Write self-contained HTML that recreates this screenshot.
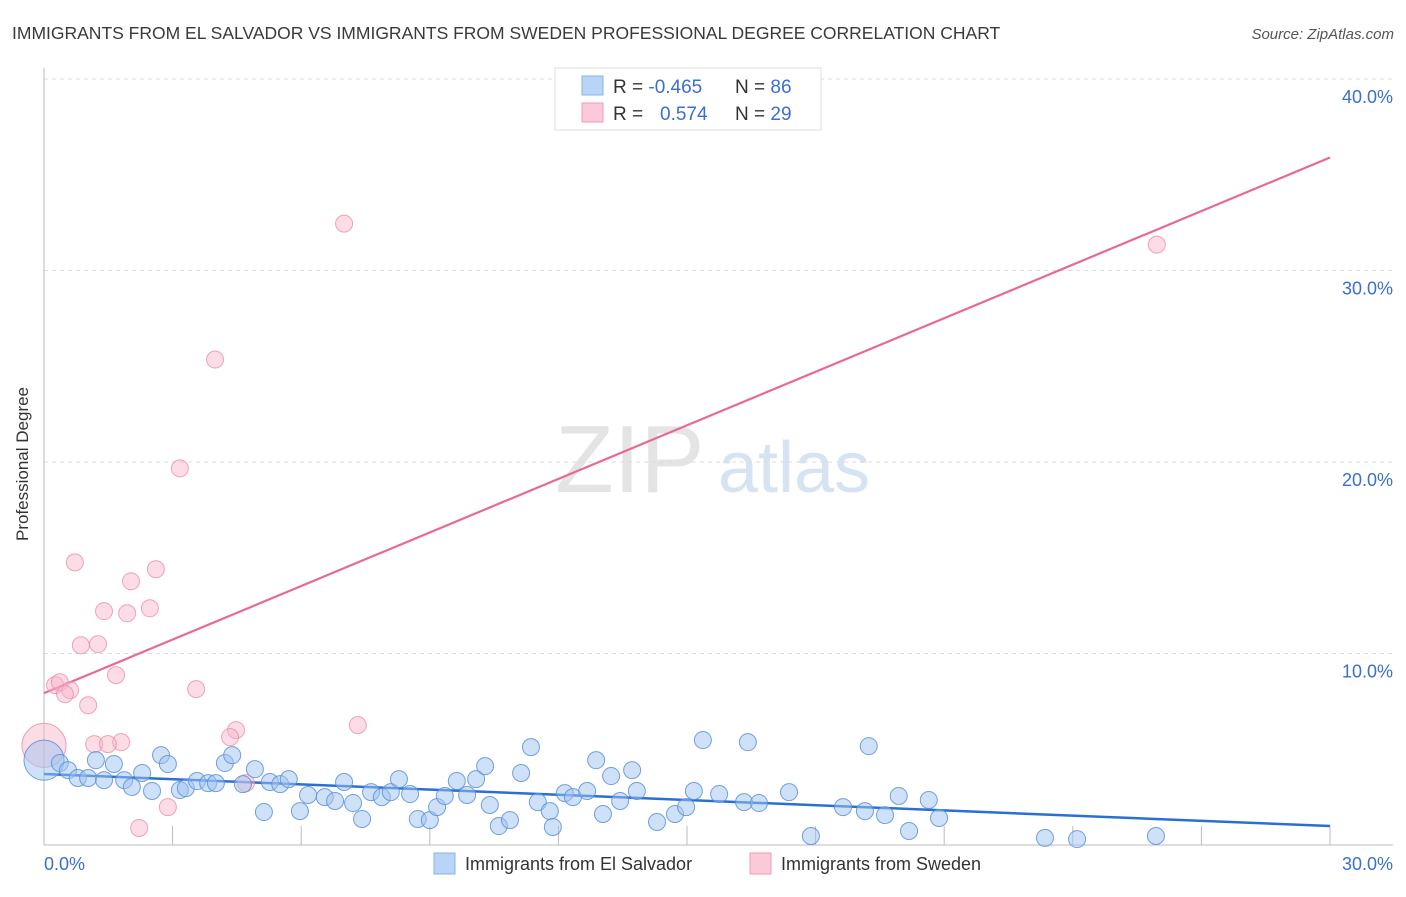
<!DOCTYPE html>
<html><head><meta charset="utf-8"><style>
body{margin:0;background:#fff;font-family:"Liberation Sans",sans-serif;}
svg text{font-family:"Liberation Sans",sans-serif;}
</style></head><body>
<svg width="1406" height="892" viewBox="0 0 1406 892" id="chart">
<text x="12" y="39" font-size="17.5" fill="#3a3a3a">IMMIGRANTS FROM EL SALVADOR VS IMMIGRANTS FROM SWEDEN PROFESSIONAL DEGREE CORRELATION CHART</text>
<text x="1394" y="39" font-size="15" fill="#555" font-style="italic" text-anchor="end">Source: ZipAtlas.com</text>
<g>
<text x="555" y="492" font-size="96" font-family="Liberation Serif" fill="#e4e4e4">ZIP</text>
<text x="718" y="492" font-size="72" fill="#d6e3f3">atlas</text>
</g>
<g id="grid"></g>
<g id="axes"></g>
<text x="20" y="456" font-size="17" fill="#333" text-anchor="middle" transform="rotate(-90 28 456)">Professional Degree</text>
<g id="trend"></g>
<g id="pts"></g>
<g>
<rect x="555" y="68" width="266" height="62" fill="#fff" stroke="#ddd"/>
<rect x="582" y="76" width="21" height="19" fill="#b8d4f6" stroke="#8ab2e6"/>
<rect x="582" y="103" width="21" height="19" fill="#fbc9d8" stroke="#f09ab5"/>
<text x="613" y="93" font-size="19" fill="#333">R = <tspan fill="#3a6fcc">-0.465</tspan></text>
<text x="735" y="93" font-size="19" fill="#333">N = <tspan fill="#3a6fcc">86</tspan></text>
<text x="613" y="120" font-size="19" fill="#333">R = <tspan fill="#3a6fcc" x="660">0.574</tspan></text>
<text x="735" y="120" font-size="19" fill="#333">N = <tspan fill="#3a6fcc">29</tspan></text>
</g>
<g>
<rect x="434" y="853" width="21" height="21" fill="#b8d4f6" stroke="#8ab2e6"/>
<text x="465" y="870" font-size="18" fill="#333">Immigrants from El Salvador</text>
<rect x="750" y="853" width="21" height="21" fill="#fbc9d8" stroke="#f09ab5"/>
<text x="781" y="870" font-size="18" fill="#333">Immigrants from Sweden</text>
</g>
</svg>
<script>
const yTicks=[10,20,30,40];
const yTickLabels=["10.0%","20.0%","30.0%","40.0%"];
const xTicks=[0,3,6,9,12,15,18,21,24,27,30];
const blueX=[0,.37,.56,.79,1.03,1.21,1.40,1.63,1.87,2.05,2.29,2.52,2.73,2.89,3.17,3.31,3.57,3.83,4.01,4.22,4.39,4.64,4.92,5.13,5.27,5.51,5.71,5.97,6.16,6.55,6.79,7.00,7.21,7.42,7.63,7.88,8.09,8.28,8.54,8.72,9.00,9.17,9.35,9.63,9.87,10.08,10.29,10.40,10.61,10.87,11.13,11.36,11.52,11.80,11.87,12.15,12.34,12.67,12.88,13.04,13.23,13.44,13.72,13.83,14.30,14.72,14.98,15.16,15.37,15.75,16.33,16.42,16.68,17.38,17.89,18.64,19.15,19.24,19.62,19.94,20.18,20.64,20.88,23.35,24.10,25.94];
const blueY=[4.43,4.28,3.91,3.50,3.50,4.43,3.39,4.23,3.39,3.03,3.76,2.82,4.69,4.23,2.87,2.97,3.34,3.23,3.23,4.28,4.69,3.18,3.96,1.72,3.29,3.18,3.44,1.77,2.61,2.50,2.30,3.29,2.19,1.36,2.76,2.50,2.76,3.44,2.66,1.36,1.30,1.98,2.56,3.34,2.61,3.44,4.12,2.09,0.99,1.30,3.76,5.11,2.24,1.77,0.94,2.71,2.50,2.82,4.43,1.62,3.60,2.30,3.91,2.82,1.20,1.62,1.98,2.82,5.48,2.66,2.24,5.37,2.19,2.76,0.47,1.98,1.77,5.16,1.56,2.56,0.73,2.35,1.41,0.37,0.31,0.47];
const pinkX=[7.0,25.96,3.99,3.17,0.72,2.61,2.03,1.40,1.94,2.47,0.86,1.26,1.68,0.26,0.37,0.61,0.49,1.03,3.55,7.32,4.48,4.34,1.17,1.80,1.49,4.71,2.89,2.22,0];
const pinkY=[32.45,31.35,25.35,19.67,14.76,14.40,13.77,12.21,12.10,12.36,10.43,10.49,8.87,8.35,8.50,8.09,7.88,7.30,8.14,6.26,6.00,5.63,5.27,5.37,5.27,3.23,1.98,0.89,5.2];
const blueTrend=[3.71,0.99];
const pinkTrend=[7.93,35.9];
const NS='http://www.w3.org/2000/svg';
const X0=44,X1=1330,Y0=845,Y40=79;
const sx=v=>X0+(X1-X0)*v/30;
const sy=v=>Y0-(Y0-Y40)*v/40;
function mk(tag,attrs,parent){const e=document.createElementNS(NS,tag);for(const k in attrs)e.setAttribute(k,attrs[k]);parent.appendChild(e);return e;}
const grid=document.getElementById('grid'),axes=document.getElementById('axes'),trend=document.getElementById('trend'),pts=document.getElementById('pts');
yTicks.forEach((t,i)=>{
 const l=mk('line',{x1:X0,x2:1393,y1:sy(t),y2:sy(t),stroke:'#ddd','stroke-dasharray':'4,4'},grid);
 
 
 const tx=mk('text',{x:1393,y:sy(t)+24,'font-size':18,fill:'#3a6fcc','text-anchor':'end'},axes);
 tx.textContent=yTickLabels[i];
 
 
});
const ya=mk('line',{x1:X0,x2:X0,y1:68,y2:Y0,stroke:'#bbb'},axes);


const xa=mk('line',{x1:X0,x2:1393,y1:Y0,y2:Y0,stroke:'#bbb'},axes);


xTicks.forEach(t=>{
 const l=mk('line',{x1:sx(t),x2:sx(t),y1:Y0-19,y2:Y0,stroke:'#bbb'},axes);
 
 
});
const xl0=mk('text',{x:44,y:870,'font-size':18,fill:'#3a6fcc'},axes);xl0.textContent='0.0%';


const xl1=mk('text',{x:1393,y:870,'font-size':18,fill:'#3a6fcc','text-anchor':'end'},axes);xl1.textContent='30.0%';


pinkX.forEach((x,i)=>{
 const c=mk('circle',{cx:sx(x),cy:sy(pinkY[i]),r:i===pinkX.length-1?22:8.5,fill:'rgba(248,180,200,0.45)',stroke:'rgba(238,140,170,0.8)','stroke-width':1},pts);
 
 
});
blueX.forEach((x,i)=>{
 const c=mk('circle',{cx:sx(x),cy:sy(blueY[i]),r:i===0?20:8.5,fill:'rgba(160,195,240,0.5)',stroke:'rgba(90,145,220,0.85)','stroke-width':1},pts);
 
 
});
const tp=mk('line',{x1:sx(0),x2:sx(30),y1:sy(pinkTrend[0]),y2:sy(pinkTrend[1]),stroke:'#e8689a','stroke-width':2.2},trend);


const tb=mk('line',{x1:sx(0),x2:sx(30),y1:sy(blueTrend[0]),y2:sy(blueTrend[1]),stroke:'#2a6fd6','stroke-width':2.5},trend);


</script>
</body></html>
